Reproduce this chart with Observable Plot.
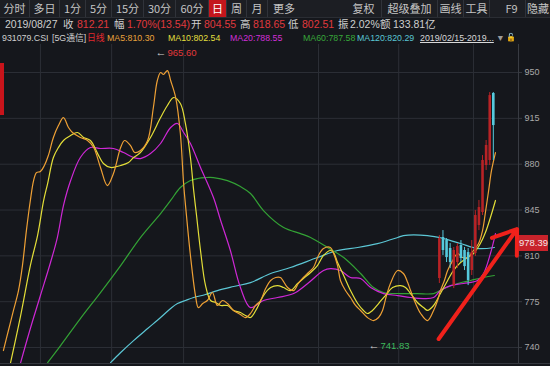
<!DOCTYPE html>
<html><head><meta charset="utf-8">
<script src="https://cdn.jsdelivr.net/npm/d3@7"></script>
<script src="https://cdn.jsdelivr.net/npm/@observablehq/plot@0.6"></script>
<style>
html,body{margin:0;padding:0;background:#15171c;width:550px;height:366px;overflow:hidden;font-family:"Liberation Sans","Noto Sans CJK SC",sans-serif;}
#wrap{position:relative;width:550px;height:366px;}
.tb{position:absolute;left:0;top:0;width:550px;height:17px;background:#1c1e23;border-bottom:1px solid #2a2d33;}
.tab{position:absolute;top:0;height:17px;line-height:17px;font-size:11px;color:#c4c4c4;text-align:center;box-sizing:border-box;border-right:1px solid #30333a;font-family:"Noto Sans CJK SC","Liberation Sans",sans-serif;white-space:nowrap;overflow:hidden;}
.row{position:absolute;left:0;width:550px;height:14px;line-height:14px;white-space:nowrap;}
.row span{position:absolute;top:0;}
.r2{top:17px;font-size:10.5px;color:#cfcfcf;}
.r3{top:31px;font-size:8.8px;color:#cfcfcf;}
.cjk{font-family:"Noto Sans CJK SC",sans-serif;}
#chart{position:absolute;left:0;top:44px;}
#lbl{position:absolute;left:519px;width:29px;height:16px;line-height:16px;background:#c8232b;color:#f3e6e6;font-size:9.5px;text-align:center;}
#redbar{position:absolute;left:0;top:63px;width:4px;height:52px;background:#c8141b;}
#bottomline{position:absolute;left:0;top:363px;width:550px;height:1px;background:#34373e;}
</style>
</head><body>
<div id="wrap">
  <div class="tb" id="tb"></div>
  <div class="row r2" id="r2"></div>
  <div class="row r3" id="r3"></div>
  <div id="chart"></div>
  <div id="redbar"></div>
  <div id="bottomline"></div>
</div>
<script>
// ---------- data ----------
const tabs = ["分时","多日","1分","5分","15分","30分","60分","日","周","月","更多","复权","超级叠加","画线","工具","F9","隐藏"];
const yTicks = [740, 775, 810, 845, 880, 915, 950];
const monthDays = [11.1, 30.9, 50.9, 88.4, 110.7, 131.5];

// moving averages: [day index, value]
const ma5 = [[0.8,737.7],[2.2,753.0],[3.6,768.3],[5.0,783.5],[6.1,802.6],[7.2,829.3],[8.3,852.3],[9.2,867.5],[10.0,873.6],[11.1,874.4],[12.2,879.0],[13.3,886.6],[14.7,900.4],[16.1,909.5],[17.5,915.6],[18.9,908.0],[20.0,904.2],[22.2,900.4],[24.2,898.1],[25.9,892.7],[27.8,877.5],[29.7,863.7],[31.4,872.9],[33.4,892.7],[34.5,898.1],[36.1,894.3],[37.3,888.9],[38.9,890.4],[40.9,898.1],[42.5,923.3],[43.6,943.9],[44.5,950.0],[45.3,948.5],[46.4,951.5],[47.3,943.9],[48.7,930.9],[50.0,903.4],[50.9,865.2],[51.7,840.8],[52.8,810.3],[54.2,779.7],[55.0,770.5],[56.2,773.6],[57.5,775.9],[58.9,782.0],[60.3,772.1],[61.7,775.9],[63.1,773.6],[64.8,768.3],[66.7,765.2],[68.1,762.9],[69.5,766.0],[70.9,772.1],[72.3,775.9],[73.7,785.0],[75.1,791.2],[76.5,793.5],[77.8,793.5],[79.8,785.8],[81.5,783.5],[82.8,788.9],[84.2,793.5],[85.6,797.3],[87.0,801.1],[88.4,810.3],[89.8,815.6],[91.7,816.4],[92.6,811.8],[93.7,802.6],[94.5,791.2],[95.9,783.5],[97.3,778.2],[98.7,772.1],[100.1,768.3],[102.0,762.9],[103.7,760.6],[105.1,762.9],[106.2,768.3],[107.3,779.7],[108.4,788.9],[110.4,798.8],[112.0,796.5],[113.2,789.6],[114.0,783.5],[115.4,773.6],[116.8,766.0],[118.7,760.6],[120.4,768.3],[121.5,775.9],[122.3,783.5],[123.4,791.2],[124.3,798.8],[125.7,806.4],[127.1,811.8],[128.4,808.7],[129.8,808.7],[131.5,814.1],[132.9,819.4],[134.0,829.3],[134.8,843.1],[135.7,859.9],[136.5,875.2],[137.6,888.9]];
const ma10 = [[2.8,728.5],[5.6,764.4],[8.3,802.6],[10.3,825.5],[12.0,852.3],[13.1,865.2],[14.7,885.1],[16.1,892.7],[17.5,898.1],[19.5,901.9],[21.4,904.2],[23.1,900.4],[25.0,898.1],[27.0,888.1],[28.6,880.5],[30.6,877.5],[33.4,879.0],[35.6,881.3],[37.0,885.1],[38.9,888.9],[41.7,900.4],[44.5,915.6],[46.4,924.8],[48.1,930.9],[50.0,926.3],[51.4,911.1],[52.8,885.1],[53.7,859.9],[54.5,840.8],[55.6,814.1],[57.0,787.3],[58.4,775.9],[59.8,774.4],[61.2,772.1],[63.1,772.1],[64.8,768.3],[66.7,766.7],[68.1,764.4],[69.5,762.9],[71.4,770.5],[73.1,779.7],[75.1,785.8],[77.0,787.3],[78.7,785.8],[80.6,783.5],[82.6,788.9],[84.2,792.7],[86.2,797.3],[88.1,802.6],[89.8,810.3],[91.7,814.1],[92.6,812.5],[93.7,804.9],[95.4,795.0],[97.3,783.5],[99.3,773.6],[100.9,768.3],[102.0,766.0],[103.4,768.3],[105.1,773.6],[107.0,779.7],[109.0,785.8],[111.2,787.3],[112.6,785.8],[114.0,781.2],[115.9,774.4],[117.6,770.5],[118.7,768.3],[120.4,772.1],[122.3,781.2],[124.3,791.2],[125.9,798.8],[127.9,804.9],[129.8,808.7],[131.5,811.8],[133.4,819.4],[134.8,827.8],[136.2,839.3],[137.6,852.3]];
const ma20 = [[5.6,728.5],[8.3,754.5],[11.1,779.7],[13.9,804.9],[15.8,824.0],[17.5,848.4],[19.5,867.5],[22.2,885.1],[25.0,892.7],[27.8,892.0],[31.4,892.0],[34.2,888.9],[37.0,885.1],[38.9,884.3],[41.7,888.1],[44.5,895.8],[47.3,908.0],[49.2,911.1],[50.9,904.2],[52.8,895.8],[55.6,877.5],[59.2,854.5],[61.2,837.0],[63.9,814.1],[66.7,785.8],[69.5,770.5],[73.1,775.9],[77.0,778.2],[81.5,781.2],[85.4,788.9],[89.8,798.8],[91.7,800.3],[94.5,798.8],[97.3,793.5],[100.1,792.7],[102.9,785.8],[106.5,781.2],[110.4,779.7],[114.0,778.2],[117.6,777.4],[120.4,778.2],[122.3,783.5],[125.1,787.3],[128.7,788.9],[132.6,791.2],[134.3,796.5],[136.2,811.8],[137.6,827.0]];
const ma60 = [[13.1,728.5],[16.7,741.5],[22.2,762.1],[27.8,782.0],[33.4,802.6],[38.9,824.0],[44.5,842.3],[47.3,852.3],[50.0,862.2],[52.8,867.5],[54.8,869.1],[57.0,869.8],[59.2,869.8],[63.1,867.5],[66.7,862.9],[69.5,857.6],[73.1,844.6],[78.7,831.6],[83.4,827.0],[86.2,824.0],[90.9,816.4],[95.4,808.7],[100.1,796.5],[103.7,785.8],[106.5,782.0],[111.2,781.2],[115.9,781.2],[120.4,781.2],[123.2,785.0],[127.1,788.9],[130.7,791.2],[134.3,793.5],[137.3,795.0]];
const ma120 = [[30.6,728.5],[33.4,736.2],[37.0,745.3],[40.9,754.5],[44.5,762.9],[47.3,769.8],[49.2,773.6],[51.4,775.9],[53.7,778.2],[57.0,780.5],[60.3,783.5],[64.8,786.6],[69.5,789.6],[75.1,796.5],[80.6,801.1],[88.1,808.7],[93.7,814.1],[99.3,816.4],[104.8,819.4],[110.4,824.0],[112.0,825.5],[118.7,825.5],[123.2,823.2],[127.9,819.4],[132.6,815.6],[137.3,816.4]];

// visible daily candles
const candleDays = [122,123,124,125,126,127,128,129,130,131,132,133,134,135,136,137];
const opens  = [792.7,824.0,821.7,815.6,787.3,804.9,817.9,814.1,812.5,798.8,811.8,833.2,843.1,879.0,882.8,934.0];
const closes = [823.2,814.1,808.7,804.9,814.1,817.1,808.0,801.8,791.2,812.5,840.8,846.9,882.8,894.3,932.4,909.5];
const highs  = [825.5,829.3,823.2,819.4,816.4,819.4,821.7,816.4,815.6,821.7,844.6,852.3,886.6,898.1,934.7,934.7];
const lows   = [788.9,810.3,804.9,800.3,785.0,800.3,804.9,798.8,787.3,795.0,809.5,829.3,840.8,875.2,879.0,882.8];

const highPoint = {day: 43.1, value: 965.60};
const lowPoint = {day: 102.3, value: 741.83};
const trendArrow = [{x1: 121.8, y1: 746.5, x2: 143.6, y2: 830.5}];
const priceTag = {value: 819.4, text: "978.39"};

// ---------- header ----------
const tabPos = [[0,30],[30,30],[60,26],[86,26],[112,32],[144,32],[176,33],[209,18],[227,20],[247,21],[268,32],[346,36],[382,56],[438,26],[464,26],[498,28],[526,24]];
const tb = document.getElementById("tb");
tabs.forEach((t,i)=>{
  const d=document.createElement("div");
  d.className="tab"; d.textContent=t;
  d.style.left=tabPos[i][0]+"px"; d.style.width=tabPos[i][1]+"px";
  if(t==="日"){d.style.background="#c4161d";d.style.color="#fff";}
  if(i===10) d.style.borderRight="none";
  if(i===16){d.style.borderRight="none";}
  tb.appendChild(d);
});
const row2 = [["2019/08/27",5,"#cfcfcf"],["收",63,"#cfcfcf",1],["812.21",77,"#e0393c"],["幅",114,"#cfcfcf",1],["1.70%(13.54)",127,"#e0393c"],["开",191,"#cfcfcf",1],["804.55",204,"#e0393c"],["高",240,"#cfcfcf",1],["818.65",253,"#e0393c"],["低",288,"#cfcfcf",1],["802.51",302,"#e0393c"],["振",338,"#cfcfcf",1],["2.02%",350,"#cfcfcf"],["额",380,"#cfcfcf",1],["133.81亿",393,"#cfcfcf"]];
const row3 = [["931079.CSI",2,"#cfcfcf"],["[5G通信]",52,"#cfcfcf"],["日线",87,"#e0282e",1],["MA5:810.30",107,"#e9a23b"],["MA10:802.54",168,"#e2df3e"],["MA20:788.55",230,"#d02fd6"],["MA60:787.58",303,"#37a63a"],["MA120:820.29",357,"#5ac6d4"],["2019/02/15-2019...",420,"#d8d8d8"],["▼",496,"#9a9a9a"]];
function fillRow(id, items){
  const r=document.getElementById(id);
  items.forEach(([t,x,c,cj])=>{
    const s=document.createElement("span");
    s.textContent=t; s.style.left=x+"px"; s.style.color=c;
    if(cj) s.className="cjk";
    if(t.startsWith("2019/02")) s.style.textDecoration="underline";
    r.appendChild(s);
  });
}
fillRow("r2", row2);
fillRow("r3", row3);
const lock=document.createElement("span");
lock.textContent="🔓"; lock.style.left="506px"; lock.style.color="#e3b341"; lock.style.fontSize="8px";
document.getElementById("r3").appendChild(lock);

// ---------- chart ----------
const candles = candleDays.map((d,i)=>({day:d, open:opens[i], close:closes[i], high:highs[i], low:lows[i], up: closes[i]>=opens[i]}));
const candleColor = d => d.up ? "#b82326" : "#56c9dc";
const lineOpts = (c) => ({x: d=>d[0], y: d=>d[1], stroke: c, strokeWidth: 1.2, curve: "catmull-rom", clip: true});

const plot = Plot.plot({
  width: 550, height: 319,
  marginLeft: 0, marginRight: 32, marginTop: 0, marginBottom: 0,
  style: {background: "transparent", color: "#a9a9a9", fontSize: "9px", fontFamily: "Liberation Sans, sans-serif", overflow: "visible"},
  x: {domain: [0, 144], axis: null},
  y: {domain: [727.8, 971.4], axis: null},
  marks: [
    Plot.ruleY(yTicks, {stroke: "#2c2f36", strokeWidth: 1}),
    Plot.ruleX(monthDays, {stroke: "#2c2f36", strokeWidth: 1}),
    Plot.ruleX([144], {stroke: "#383b42", strokeWidth: 1}),
    Plot.axisY(yTicks, {anchor: "right", tickSize: 3, tickPadding: 3, stroke: "#383b42", fill: "#a9a9a9", fontSize: 9}),
    Plot.line(ma120, lineOpts("#5cc7d5")),
    Plot.line(ma60, lineOpts("#33a235")),
    Plot.line(ma20, lineOpts("#cf28d6")),
    Plot.line(ma10, lineOpts("#e3de38")),
    Plot.line(ma5, lineOpts("#eea035")),
    Plot.ruleX(candles, {x: "day", y1: "low", y2: "high", stroke: candleColor, strokeWidth: 1}),
    Plot.ruleX(candles, {x: "day", y1: "open", y2: "close", stroke: candleColor, strokeWidth: 2.6}),
    Plot.text([highPoint], {x: "day", y: "value", text: () => "←", fill: "#d4d4d4", textAnchor: "start", fontSize: 11}),
    Plot.text([highPoint], {x: "day", y: "value", text: d => d.value.toFixed(2), fill: "#e2383b", textAnchor: "start", dx: 12, dy: 1, fontSize: 9.5}),
    Plot.text([lowPoint], {x: "day", y: "value", text: () => "←", fill: "#d4d4d4", textAnchor: "start", fontSize: 11}),
    Plot.text([lowPoint], {x: "day", y: "value", text: d => d.value.toFixed(2), fill: "#3dba5c", textAnchor: "start", dx: 12, dy: 1, fontSize: 9.5}),
    Plot.arrow(trendArrow, {x1: "x1", y1: "y1", x2: "x2", y2: "y2", stroke: "#f0211b", strokeWidth: 4, headLength: 10, headAngle: 70})
  ]
});
document.getElementById("chart").appendChild(plot);

const tag=document.createElement("div");
tag.id="lbl"; tag.textContent=priceTag.text;
tag.style.top=(44 + plot.scale("y").apply(priceTag.value) - 8)+"px";
document.getElementById("wrap").appendChild(tag);
</script>
</body></html>
